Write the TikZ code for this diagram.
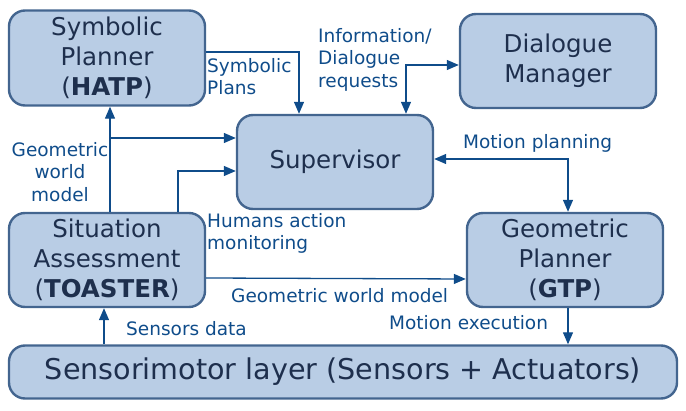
\documentclass[tikz,border=0pt]{standalone}
\usepackage{fontspec}
\setmainfont{DejaVu Sans}
\usetikzlibrary{arrows.meta}
\definecolor{boxfill}{HTML}{B9CDE5}
\definecolor{boxline}{HTML}{43658F}
\definecolor{boxtext}{HTML}{1E2F4D}
\definecolor{flowcol}{HTML}{0F4C8A}
\begin{document}
\begin{tikzpicture}[x=1pt, y=-1pt,
    box/.style={draw=boxline, fill=boxfill, line width=2.4pt, rounded corners=16pt,
        align=center, text=boxtext, font=\fontsize{24.5}{30}\selectfont,
        minimum width=196pt, minimum height=95pt, inner sep=0pt},
    lbl/.style={text=flowcol, font=\fontsize{18.5}{22.5}\selectfont, inner sep=0pt},
    flow/.style={draw=flowcol, line width=1.3pt, -{Triangle[length=12pt,width=10pt]}},
    flowtwo/.style={flow, {Triangle[length=12pt,width=10pt]}-{Triangle[length=12pt,width=10pt]}}]
    \useasboundingbox (0,0) rectangle (686,411);
    \node(HATP) [box] at (107,58) {Symbolic\\Planner\\(\textbf{HATP})};
    \node(DM) [box, minimum height=94pt] at (558,61) {Dialogue\\Manager};
    \node(SUP) [box, minimum height=94pt] at (335,162) {Supervisor};
    \node(SA) [box, minimum height=94pt] at (107,260) {Situation\\Assessment\\(\textbf{TOASTER})};
    \node(GTP) [box, minimum height=94pt] at (565,260) {Geometric\\Planner\\(\textbf{GTP})};
    \node(SML) [box, minimum width=668pt, minimum height=53pt, font=\fontsize{28.6}{32}\selectfont] at (343,372) {Sensorimotor layer (Sensors + Actuators)};
    % connectors
    \draw[flow] ([yshift=6pt]HATP.east) -| ([xshift=-36pt]SUP.north);
    \draw[flowtwo] ([xshift=71pt]SUP.north) |- ([yshift=-4pt]DM.west);
    \draw[flow] ([xshift=3pt]SA.north) -- ([xshift=3pt]HATP.south);
    \draw[flow] ([xshift=3pt]SA.north) |- ([yshift=24pt]SUP.west);
    \draw[flow] ([xshift=71pt]SA.north) |- ([yshift=-9pt]SUP.west);
    \draw[flowtwo] ([yshift=3pt]SUP.east) -| ([xshift=3pt]GTP.north);
    \draw[flow] ([yshift=-18pt]SA.east) -- ([yshift=-19pt]GTP.west);
    \draw[flow] ([xshift=3pt]GTP.south) -- ([xshift=3pt]GTP.south |- SML.north);
    \draw[flow] ([xshift=-3pt]SA.south |- SML.north) -- ([xshift=-3pt]SA.south);
    % labels
    \node(symplans) [lbl, align=left, anchor=north west] at (207,58) {Symbolic\\Plans};
    \node(inforeq) [lbl, align=left, anchor=north west] at (318,28) {Information/\\Dialogue\\requests};
    \node(gwmup) [lbl, align=center, anchor=north] at (60,142) {Geometric\\world\\model};
    \node(humans) [lbl, align=left, anchor=north west] at (207,213) {Humans action\\monitoring};
    \node(gwmdown) [lbl, anchor=base west] at (231,303) {Geometric world model};
    \node(sensors) [lbl, anchor=base west] at (126,336) {Sensors data};
    \node(motexec) [lbl, anchor=base west] at (389,330) {Motion execution};
    \node(motplan) [lbl, anchor=base west] at (463,149) {Motion planning};
\end{tikzpicture}
\end{document}
